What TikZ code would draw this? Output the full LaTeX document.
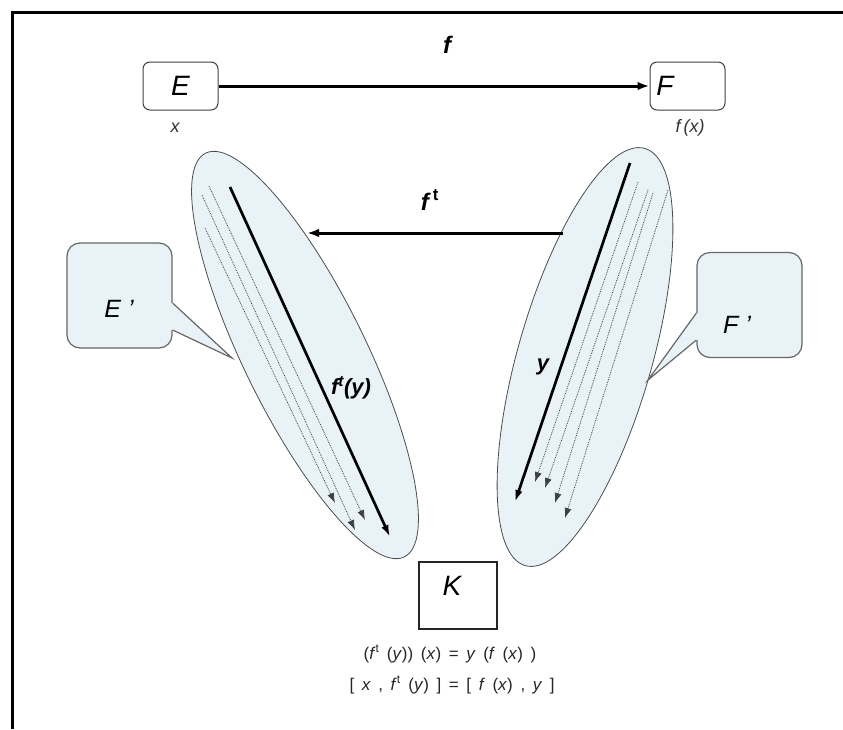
\documentclass[tikz,border=0pt]{standalone}
\usepackage{fontspec}
\setmainfont{Liberation Sans}
\usetikzlibrary{arrows.meta,calc,shapes.geometric}
\definecolor{pale}{RGB}{233,243,247}
\newcommand\wideblanks{\spaceskip=7.6pt\relax}
\tikzset{
  bx/.style={rounded corners=7pt,draw=black!75,fill=white,line width=1pt,minimum width=75pt,minimum height=48pt,inner sep=0pt},
  kbx/.style={draw=black!85,fill=white,line width=1.1pt,minimum width=78pt,minimum height=67pt,inner sep=0pt},
  ell/.style={ellipse,draw=black!70,fill=pale,line width=.8pt,inner sep=0pt},
  cl/.style={rounded corners=13pt,draw=black!60,fill=pale,line width=1.2pt,minimum width=105pt,minimum height=105pt,inner sep=0pt},
  ptr/.style={draw=black!60,line width=1.2pt,line join=miter},
  map/.style={-{Latex[length=12pt,width=8.5pt]},line width=3pt},
  vec/.style={-{Latex[length=12pt,width=7.5pt]},line width=2.7pt},
  vecd/.style={-{Latex[length=10pt,width=7pt]},line width=.8pt,densely dotted,draw=black!75},
  sp/.style={font=\fontsize{28}{30}\selectfont\itshape},
  spd/.style={font=\fontsize{25}{27}\selectfont\itshape},
  fl/.style={font=\fontsize{24}{26}\selectfont\bfseries\itshape},
  vl/.style={font=\fontsize{22}{24}\selectfont\bfseries\itshape},
  el/.style={font=\fontsize{18}{20}\selectfont\itshape,text=black!80},
  eq/.style={font=\fontsize{17}{19}\selectfont\wideblanks,text=black!85},
}
\begin{document}
\begin{tikzpicture}[x=1pt,y=-1pt]
\useasboundingbox (0,0) rectangle (843,729);
\draw[line width=3pt] (12,729) -- (12,12) -- (843,12);

% spaces and the map between them
\node[bx,sp] (E) at (180.5,86) {E};
\node[bx] (F) at (687.5,86) {}; \node[sp] at (665,86) {F};
\draw[map] (E) -- (F);
\node[fl] (fl) at (447,45) {f};
\node[el] (xl) at (175,128) {x};
\node[el] (fxl) at (690,128) {f\,(x)};

% dual spaces
\node[ell,minimum width=450pt,minimum height=122pt,rotate=-63.8] (Ep) at (305,355) {};
\node[ell,minimum width=434pt,minimum height=134pt,rotate=74] (Fp) at (585,357) {};

\draw[vecd] (209,186) -- (365,520);
\draw[vecd] (202,195) -- (355,530);
\draw[vecd] (205,228) -- (335,503);
\draw[vec] (230,187) -- (390,537);
\node[vl] (fty) at (351,388) {f\textsuperscript{t}(y)};

\draw[vecd] (638,182) -- (535,482);
\draw[vecd] (648,190) -- (545,488);
\draw[vecd] (653,193) -- (555,503);
\draw[vecd] (668,190) -- (565,518);
\draw[vec] (630,163) -- (515,502);
\node[vl] (yl) at (543,367) {y};

\coordinate (ftA) at (563,233);
\coordinate (ftB) at (307,233);
\draw[map] (ftA) -- (ftB);
\node[fl] (ftl) at (430,200) {f\,\textsuperscript{\upshape t}};

% callouts
\node[cl] (Ec) at (119.5,295.5) {};
\coordinate (Etip) at (232,358);
\fill[pale] ($(Ec.east)+(-2,7.5)$) -- ($(Ec.east)+(0,7.5)$) -- (Etip) -- ($(Ec.east)+(0,34.5)$) -- ($(Ec.east)+(-2,34.5)$) -- cycle;
\draw[ptr] ($(Ec.east)+(0,7.5)$) -- (Etip) -- ($(Ec.east)+(0,34.5)$);
\node[spd] at (119,309) {E~'};

\node[cl] (Fc) at (749.5,305) {};
\coordinate (Ftip) at (648,380);
\fill[pale] ($(Fc.west)+(2,8)$) -- ($(Fc.west)+(0,8)$) -- (Ftip) -- ($(Fc.west)+(0,35)$) -- ($(Fc.west)+(2,35)$) -- cycle;
\draw[ptr] ($(Fc.west)+(0,8)$) -- (Ftip) -- ($(Fc.west)+(0,35)$);
\node[spd] at (737,325) {F~'};

% scalars
\node[kbx] (K) at (458,595.5) {};
\node[sp] at (452,586) {K};
\node[eq] (eq1) at (450,654) {(\textit{f}\textsuperscript{t} (\textit{y})) (\textit{x}) = \textit{y} (\textit{f} (\textit{x}) )};
\node[eq] (eq2) at (452,685) {[ \textit{x} , \textit{f}\textsuperscript{t} (\textit{y}) ] = [ \textit{f} (\textit{x}) , \textit{y} ]};
\end{tikzpicture}
\end{document}
